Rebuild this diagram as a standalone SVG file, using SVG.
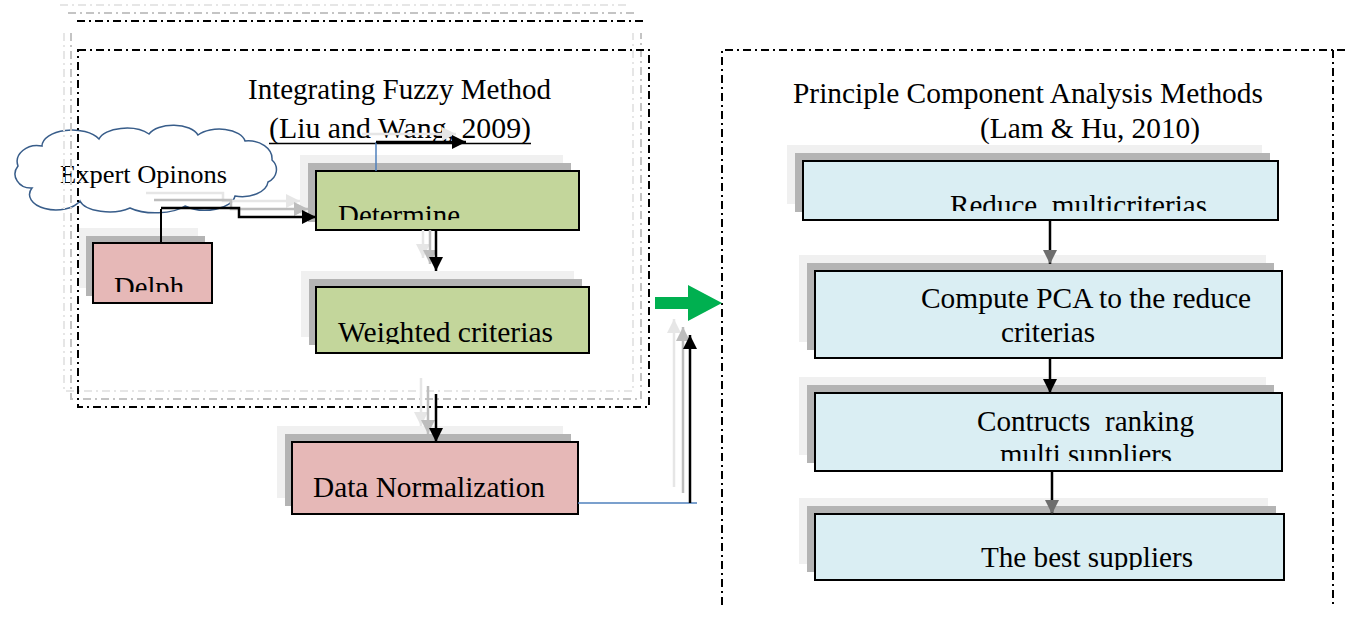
<svg xmlns="http://www.w3.org/2000/svg" width="1347" height="625" viewBox="0 0 1347 625">
<style>
text{font-family:"Liberation Serif","Times New Roman",serif;font-size:29px;fill:#000;white-space:pre}
.frame{fill:none;stroke:#000;stroke-width:2;stroke-dasharray:8 4 2 4}
.frameG{fill:none;stroke:#c4c4c4;stroke-width:2;stroke-dasharray:8 4 2 4}
.frameL{fill:none;stroke:#e6e6e6;stroke-width:2;stroke-dasharray:8 4 2 4}
.box{stroke:#000;stroke-width:2}
.green{fill:#c3d69b}
.pink{fill:#e6b8b7}
.blue{fill:#daeef3}
.sh1{fill:#b4b4b4}
.sh2{fill:#f0f0f0}
.conn{fill:none;stroke:#000;stroke-width:2.5}
.connG{fill:none;stroke:#bdbdbd;stroke-width:2.5}
.connL{fill:none;stroke:#e6e6e6;stroke-width:2.5}
.bl{fill:none;stroke:#4f81bd;stroke-width:1.5}
</style>
<defs>
<marker id="ah" markerUnits="userSpaceOnUse" markerWidth="16" markerHeight="16" refX="14" refY="7" orient="auto"><path d="M0,0 L14,7 L0,14 z" fill="#000"/></marker>
<marker id="ahD" markerUnits="userSpaceOnUse" markerWidth="16" markerHeight="16" refX="14" refY="7" orient="auto"><path d="M0,0 L14,7 L0,14 z" fill="#6e6e6e"/></marker>
<marker id="ahG" markerUnits="userSpaceOnUse" markerWidth="16" markerHeight="16" refX="14" refY="7" orient="auto"><path d="M0,0 L14,7 L0,14 z" fill="#bdbdbd"/></marker>
<marker id="ahL" markerUnits="userSpaceOnUse" markerWidth="16" markerHeight="16" refX="14" refY="7" orient="auto"><path d="M0,0 L14,7 L0,14 z" fill="#e6e6e6"/></marker>
<clipPath id="cDet"><rect x="316" y="171" width="263" height="49"/></clipPath>
<clipPath id="cDel"><rect x="93" y="243" width="119" height="49"/></clipPath>
<clipPath id="cWei"><rect x="316" y="287" width="273" height="57"/></clipPath>
<clipPath id="cRed"><rect x="803" y="161" width="475" height="50"/></clipPath>
<clipPath id="cCon"><rect x="815" y="393" width="467" height="68"/></clipPath>
<clipPath id="cBest"><rect x="815" y="514" width="469" height="56"/></clipPath>
</defs>

<g id="cloud">
<path d="M32,188 A16,14 0 0 1 18,166 A20,16 0 0 1 42,146 A30,16 0 0 1 99,139 A28,14 0 0 1 149,134 A26,14 0 0 1 198,135 A26,14 0 0 1 245,141 A24,18 0 0 1 272,160 A16,14 0 0 1 268,182 A26,16 0 0 1 235,196 A30,16 0 0 1 185,206 A34,14 0 0 1 130,208 A30,14 0 0 1 80,201 A24,14 0 0 1 32,188 Z" fill="#fff" stroke="#385d8a" stroke-width="1.5"/>
<text x="60" y="183" style="font-size:26px" textLength="167" lengthAdjust="spacingAndGlyphs">Expert Opinons</text>
</g>

<g id="left-frame">
<path class="frameL" d="M60,5 H627"/>
<path class="frameG" d="M68,13 H635"/>
<path class="frame" d="M77,21 H643"/>
<path class="frameL" d="M64,33 V391 H633 V33"/>
<path class="frameG" d="M71,33 V399 H641 V33"/>
<rect class="frame" x="78" y="50" width="571" height="357"/>
<text x="248" y="99" textLength="303" lengthAdjust="spacingAndGlyphs">Integrating Fuzzy Method</text>
<text x="269" y="138" textLength="262" lengthAdjust="spacingAndGlyphs">(Liu and Wang, 2009)</text>
<path d="M269,143.5 H531" stroke="#000" stroke-width="1.5"/>
</g>

<g id="right-frame">
<path class="frame" d="M722,605 V50 H1345"/>
<path class="frame" d="M1333,50 V605"/>
<text x="793" y="103" textLength="470" lengthAdjust="spacingAndGlyphs">Principle Component Analysis Methods</text>
<text x="980" y="138" textLength="220" lengthAdjust="spacingAndGlyphs">(Lam &amp; Hu, 2010)</text>
</g>

<g id="node-determine">
<rect class="sh2" x="300" y="155" width="263" height="59"/>
<rect class="sh1" x="308" y="163" width="263" height="59"/>
<rect class="box green" x="316" y="171" width="263" height="59"/>
<text x="338" y="225" clip-path="url(#cDet)" textLength="122" lengthAdjust="spacingAndGlyphs">Determine</text>
</g>

<g id="node-delph">
<rect class="sh2" x="79" y="228" width="119" height="60"/>
<rect class="sh1" x="86" y="236" width="119" height="60"/>
<rect class="box pink" x="93" y="243" width="119" height="60"/>
<text x="114" y="297" clip-path="url(#cDel)" textLength="70" lengthAdjust="spacingAndGlyphs">Delph</text>
</g>

<g id="node-weighted">
<rect class="sh2" x="301" y="271" width="273" height="66"/>
<rect class="sh1" x="309" y="279" width="273" height="66"/>
<rect class="box green" x="316" y="287" width="273" height="66"/>
<text x="338" y="342" clip-path="url(#cWei)" textLength="215" lengthAdjust="spacingAndGlyphs">Weighted criterias</text>
</g>

<g id="node-datanorm">
<rect class="sh2" x="277" y="426" width="286" height="72"/>
<rect class="sh1" x="285" y="434" width="286" height="72"/>
<rect class="box pink" x="292" y="442" width="286" height="72"/>
<text x="313" y="497" textLength="232" lengthAdjust="spacingAndGlyphs">Data Normalization</text>
</g>

<g id="node-reduce">
<rect class="sh2" x="787" y="145" width="475" height="59"/>
<rect class="sh1" x="795" y="153" width="475" height="59"/>
<rect class="box blue" x="803" y="161" width="475" height="59"/>
<text x="950" y="215" clip-path="url(#cRed)" textLength="257" lengthAdjust="spacingAndGlyphs">Reduce  multicriterias</text>
</g>

<g id="node-compute">
<rect class="sh2" x="799" y="255" width="467" height="87"/>
<rect class="sh1" x="807" y="263" width="467" height="87"/>
<rect class="box blue" x="815" y="271" width="467" height="87"/>
<text x="921" y="308" textLength="330" lengthAdjust="spacingAndGlyphs">Compute PCA to the reduce</text>
<text x="1001" y="342" textLength="94" lengthAdjust="spacingAndGlyphs">criterias</text>
</g>

<g id="node-contructs">
<rect class="sh2" x="799" y="377" width="467" height="78"/>
<rect class="sh1" x="807" y="385" width="467" height="78"/>
<rect class="box blue" x="815" y="393" width="467" height="78"/>
<text x="977" y="431" textLength="217" lengthAdjust="spacingAndGlyphs">Contructs  ranking</text>
<text x="1000" y="464" clip-path="url(#cCon)" textLength="172" lengthAdjust="spacingAndGlyphs">multi suppliers</text>
</g>

<g id="node-best">
<rect class="sh2" x="799" y="498" width="469" height="66"/>
<rect class="sh1" x="807" y="506" width="469" height="66"/>
<rect class="box blue" x="815" y="514" width="469" height="66"/>
<text x="981" y="567" clip-path="url(#cBest)" textLength="212" lengthAdjust="spacingAndGlyphs">The best suppliers</text>
</g>

<g id="connectors">
<path class="connL" d="M146,193 H223 V201 H300" marker-end="url(#ahL)"/>
<path class="connG" d="M154,200 H231 V209 H308" marker-end="url(#ahG)"/>
<path class="conn" d="M161,208 H239 V217 H316" marker-end="url(#ah)"/>
<path class="conn" d="M161,209 V243" style="stroke-width:2"/>
<path class="connL" d="M362,134 H456" marker-end="url(#ahL)"/>
<path class="bl" d="M376,171 V142"/>
<path class="conn" d="M376,142 H466" marker-end="url(#ah)"/>
<path class="connL" d="M423,230 V258" marker-end="url(#ahL)"/>
<path class="connG" d="M430,230 V264" marker-end="url(#ahG)"/>
<path class="conn" d="M436,230 V271" marker-end="url(#ah)"/>
<path class="connL" d="M421,378 V426" marker-end="url(#ahL)"/>
<path class="connG" d="M428,386 V434" marker-end="url(#ahG)"/>
<path class="conn" d="M436,394 V442" marker-end="url(#ah)"/>
<path class="bl" d="M578,503 H697"/>
<path class="connL" d="M674,487 V319" marker-end="url(#ahL)"/>
<path class="connG" d="M683,493 V327" marker-end="url(#ahG)"/>
<path class="conn" d="M690,503 V335" marker-end="url(#ah)"/>
<path d="M655,297 H688 V285 L722,303 L688,321 V309 H655 Z" fill="#00b050"/>
<path class="conn" d="M1050,221 V264" marker-end="url(#ahD)"/>
<path class="conn" d="M1050,359 V393" marker-end="url(#ah)"/>
<path class="conn" d="M1052,472 V514" marker-end="url(#ahD)"/>
</g>
</svg>
